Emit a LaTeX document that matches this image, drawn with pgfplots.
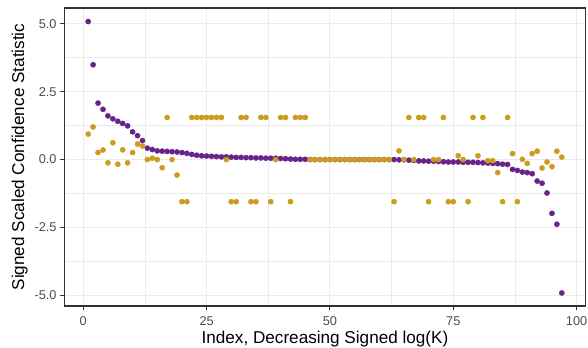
\documentclass[border=0pt]{standalone}
\usepackage{pgfplots}
\pgfplotsset{compat=1.18}
\usepackage{pgfplotstable}
\usepackage{fontspec}
\setmainfont{Liberation Sans}
\definecolor{dpurple}{HTML}{68228B}
\definecolor{dgold}{HTML}{CD9B1D}
\definecolor{grey20}{HTML}{333333}
\definecolor{grey30}{HTML}{4D4D4D}
\definecolor{grey92}{HTML}{EBEBEB}

\pgfplotstableread{
x y
1 5.08
2 3.49
3 2.08
4 1.85
5 1.61
6 1.50
7 1.41
8 1.33
9 1.24
10 1.02
11 0.88
12 0.70
13 0.42
14 0.37
15 0.32
16 0.31
17 0.30
18 0.29
19 0.28
20 0.26
21 0.23
22 0.19
23 0.16
24 0.14
25 0.13
26 0.12
27 0.11
28 0.10
29 0.10
30 0.09
31 0.08
32 0.08
33 0.07
34 0.07
35 0.06
36 0.06
37 0.05
38 0.05
39 0.05
40 0.04
41 0.03
42 0.02
43 0.01
44 0.01
45 0.01
46 0.00
47 0.00
48 0.00
49 0.00
50 0.00
51 0.00
52 0.00
53 0.00
54 0.00
55 0.00
56 0.00
57 0.00
58 0.00
59 0.00
60 0.00
61 0.00
62 0.00
63 0.00
64 -0.01
65 -0.01
66 -0.02
67 -0.03
68 -0.05
69 -0.05
70 -0.06
71 -0.06
72 -0.07
73 -0.08
74 -0.09
75 -0.09
76 -0.09
77 -0.10
78 -0.10
79 -0.10
80 -0.11
81 -0.12
82 -0.13
83 -0.14
84 -0.15
85 -0.17
86 -0.18
87 -0.36
88 -0.40
89 -0.46
90 -0.48
91 -0.52
92 -0.79
93 -0.87
94 -1.23
95 -1.98
96 -2.38
97 -4.91
}\purpledata

\pgfplotstableread{
x y
1 0.94
2 1.20
3 0.26
4 0.35
5 -0.12
6 0.62
7 -0.17
8 0.36
9 -0.12
10 0.26
11 0.57
12 0.50
13 0.00
14 0.05
15 0.00
16 -0.30
17 1.55
18 0.00
19 -0.57
20 -1.55
21 -1.55
22 1.55
23 1.55
24 1.55
25 1.55
26 1.55
27 1.55
28 1.55
29 0.00
30 -1.55
31 -1.55
32 1.55
33 1.55
34 -1.55
35 -1.55
36 1.55
37 1.55
38 -1.55
39 0.00
40 1.55
41 1.55
42 -1.55
43 1.55
44 1.55
45 1.55
46 0.00
47 0.00
48 0.00
49 0.00
50 0.00
51 0.00
52 0.00
53 0.00
54 0.00
55 0.00
56 0.00
57 0.00
58 0.00
59 0.00
60 0.00
61 0.00
62 0.00
63 -1.55
64 0.32
65 0.00
66 1.55
67 0.00
68 1.55
69 1.55
70 -1.55
71 0.00
72 0.00
73 1.55
74 -1.55
75 -1.55
76 0.14
77 0.00
78 -1.55
79 1.55
80 0.14
81 1.55
82 -0.04
83 -0.04
84 -0.48
85 -1.55
86 1.55
87 0.22
88 -1.55
89 0.01
90 -0.14
91 0.22
92 0.31
93 -0.31
94 -0.09
95 -0.26
96 0.31
97 0.09
}\golddata

\begin{document}
\begin{tikzpicture}
\path[use as bounding box] (0,0) rectangle (588bp,348bp);
\begin{axis}[
  at={(64.5bp,42bp)}, anchor=south west,
  scale only axis,
  width=521bp, height=298bp,
  xmin=-3.8, xmax=101.8,
  ymin=-5.39, ymax=5.58,
  xtick={0,25,50,75,100},
  minor xtick={12.5,37.5,62.5,87.5},
  ytick={-5,-2.5,0,2.5,5},
  minor ytick={-3.75,-1.25,1.25,3.75},
  yticklabel style={/pgf/number format/.cd, fixed, fixed zerofill, precision=1},
  /pgf/number format/assume math mode=true,
  grid=both,
  major grid style={color=grey92, line width=1.1bp},
  minor grid style={color=grey92, line width=0.55bp},
  axis line style={color=grey20, line width=1.1bp},
  tick align=outside,
  tick pos=left,
  major tick length=4.4bp,
  minor tick length=0pt,
  tick style={color=grey20, line width=1.1bp},
  tick label style={font=\fontsize{12.8}{12.8}\selectfont, color=grey30},
  xticklabel style={yshift=-3bp},
  label style={font=\fontsize{17.2}{17.2}\selectfont, color=black},
  xlabel={Index, Decreasing Signed log(K)},
  ylabel={Signed Scaled Confidence Statistic},
  xlabel style={yshift=2bp},
  ylabel style={yshift=0bp},
]
\addplot[only marks, mark=*, mark size=2.6bp, color=dpurple, mark options={draw=none, fill=dpurple}] table[x=x,y=y] {\purpledata};
\addplot[only marks, mark=*, mark size=2.6bp, color=dgold, mark options={draw=none, fill=dgold}] table[x=x,y=y] {\golddata};
\end{axis}
\end{tikzpicture}
\end{document}
